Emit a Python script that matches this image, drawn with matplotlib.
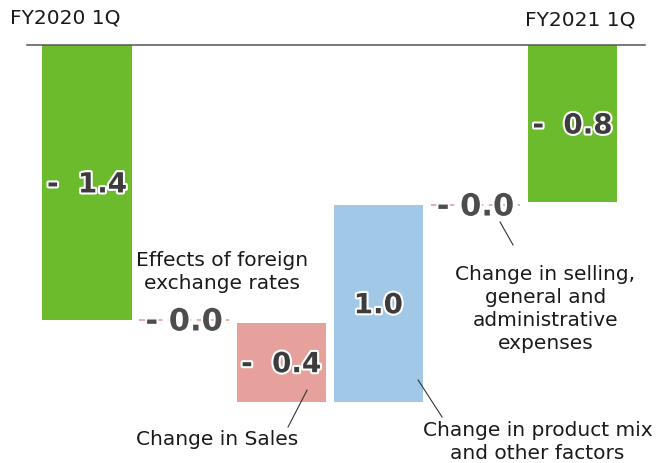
""" Operating income waterfall FY2020 1Q -> FY2021 1Q """
import numpy as np
import matplotlib.pyplot as plt
import matplotlib.patheffects as pe

#------------ Data ------------#
steps = ["FY2020 1Q", "Effects of foreign\nexchange rates", "Change in Sales",
         "Change in product mix\nand other factors",
         "Change in selling,\ngeneral and\nadministrative\nexpenses", "FY2021 1Q"]
values = [-1.40, -0.015, -0.40, 1.00, -0.005, -0.80]
labels = ["-  1.4", "- 0.0", "-  0.4", "1.0", "- 0.0", "-  0.8"]
colors = ["#6cbb2d", "#e8a6a2", "#e6a19d", "#a2c8e8", "#e8a6a2", "#6cbb2d"]

#------------ Waterfall bottoms ------------#
pos = np.arange(len(values))
bottoms = []
run = 0.0
for i, v in enumerate(values):
    if i == 0 or i == len(values) - 1:
        bottoms.append(0.0)
        run = v
    else:
        bottoms.append(run)
        run += v

fig = plt.figure(figsize=(6.59, 4.63), dpi=100)
ax = fig.add_axes([0, 0, 1, 1])
ax.set_xlim(-0.896, 5.89)
ax.set_ylim(-2.128, 0.229)
ax.axis("off")

W = 0.92
outline = [pe.withStroke(linewidth=3, foreground="white")]
for i, (v, b) in enumerate(zip(values, bottoms)):
    if abs(v) < 0.05:
        # near-zero step drawn as a dashed marker line
        ax.hlines(b, pos[i] - W / 2, pos[i] + W / 2, colors=colors[i],
                  linestyles=(0, (5, 3)), lw=1.3, zorder=1)
        ax.text(pos[i], b - 0.01, labels[i], ha="center", va="center",
                fontsize=22, fontweight="bold", color="#4d4d4d",
                path_effects=outline, zorder=3)
    else:
        ax.bar(pos[i], v, W, bottom=b, color=colors[i], zorder=2)
        ax.text(pos[i], b + v / 2 - 0.01, labels[i], ha="center", va="center",
                fontsize=20, fontweight="bold", color="#3c3c3c",
                path_effects=outline, zorder=3)

ax.axhline(0, xmin=27 / 659, xmax=645 / 659, color="#555555", lw=1.1, zorder=4)

#------------ Category texts ------------#
tkw = dict(fontsize=14.5, color="#1a1a1a", linespacing=1.25)
ax.text(-0.79, 0.137, steps[0], ha="left", va="center", **tkw)
ax.text(5.08, 0.127, steps[5], ha="center", va="center", **tkw)
ax.text(1.39, -1.156, steps[1], ha="center", va="center", **tkw)
ax.text(1.34, -2.01, steps[2], ha="center", va="center", **tkw)
ax.text(4.64, -2.02, steps[3], ha="center", va="center", **tkw)
ax.text(4.72, -1.344, steps[4], ha="center", va="center", **tkw)

# leader lines (bar index, dx0, y0, dx1, y1)
leaders = [(2, 0.266, -1.757, 0.07, -1.945),
           (3, 0.41, -1.706, 0.656, -1.894),
           (4, 0.253, -0.901, 0.387, -1.018)]
for i, dx0, y0, dx1, y1 in leaders:
    ax.plot([pos[i] + dx0, pos[i] + dx1], [y0, y1], color="#333333", lw=0.8, zorder=4)

fig.savefig("out.png", dpi=100)
